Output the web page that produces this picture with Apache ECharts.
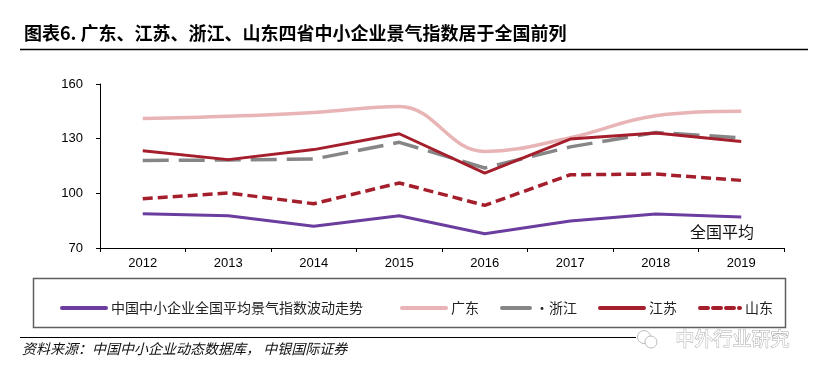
<!DOCTYPE html>
<html><head><meta charset="utf-8">
<script src="https://cdn.jsdelivr.net/npm/echarts@6/dist/echarts.min.js"></script>
<style>html,body{margin:0;padding:0;background:#fff}#c{width:821px;height:378px}</style>
</head><body><div id="c"></div>
<script>
const years = ['2012','2013','2014','2015','2016','2017','2018','2019'];
const nationalName = '中国中小企业全国平均景气指数波动走势';
const national  = [88.8, 87.7, 81.9, 87.7, 77.8, 84.8, 88.6, 87.0];
const guangdong = [141.0, 142.3, 144.4, 147.7, 123.0, 130.5, 142.6, 145.0];
const zhejiang  = [118.0, 118.3, 118.8, 128.0, 113.9, 125.5, 133.4, 130.5];
const jiangsu   = [123.4, 118.5, 124.0, 132.7, 111.1, 129.8, 133.1, 128.5];
const shandong  = [97.0, 100.2, 94.3, 105.7, 93.4, 110.2, 110.6, 107.1];
const yMin = 70, yMax = 160, yStep = 30;

const CJK = '"Noto Sans CJK SC", sans-serif';
const PURPLE = '#6A3D9F', PINK = '#E8B4B5', GRAY = '#868686', RED = '#A51E2C';

const chart = echarts.init(document.getElementById('c'), null, {renderer: 'canvas'});

function lg(name, left, w, dash) {
  const ls = {width: 4, cap: 'round'};
  if (dash) ls.type = dash;
  return {
    data: [name], left: left, top: 296, itemWidth: w, itemHeight: 14,
    itemStyle: {opacity: 0, borderWidth: 0},
    lineStyle: ls,
    textStyle: {fontFamily: CJK, fontSize: 14, color: '#222'},
    selectedMode: false
  };
}

chart.setOption({
  animation: false,
  grid: {left: 100, right: 37, top: 84, bottom: 130, containLabel: false},
  xAxis: {
    type: 'category', data: years, boundaryGap: true,
    axisLine: {lineStyle: {color: '#000', width: 1}},
    axisTick: {show: true, length: 4, lineStyle: {color: '#000'}},
    axisLabel: {color: '#000', fontSize: 13, fontFamily: '"Liberation Sans", Arial, sans-serif', margin: 9}
  },
  yAxis: {
    type: 'value', min: yMin, max: yMax, interval: yStep,
    splitLine: {show: false},
    axisLine: {show: true, lineStyle: {color: '#000', width: 1}},
    axisTick: {show: true, length: 4, lineStyle: {color: '#000'}},
    axisLabel: {color: '#000', fontSize: 13, fontFamily: '"Liberation Sans", Arial, sans-serif', margin: 17}
  },
  legend: [
    lg(nationalName, 55, 44),
    lg('广东', 395, 44),
    lg('·浙江', 495, 28, 'solid'),
    lg('江苏', 593, 44),
    lg('山东', 693, 40, [8, 5])
  ],
  series: [
    {name: nationalName, type: 'line', data: national, symbol: 'none',
     lineStyle: {color: PURPLE, width: 3}, itemStyle: {color: PURPLE}},
    {name: '广东', type: 'line', data: guangdong, symbol: 'none', smooth: 0.4,
     lineStyle: {color: PINK, width: 3.5}, itemStyle: {color: PINK}},
    {name: '·浙江', type: 'line', data: zhejiang, symbol: 'none',
     lineStyle: {color: GRAY, width: 3.5, type: [26, 10]}, itemStyle: {color: GRAY}},
    {name: '江苏', type: 'line', data: jiangsu, symbol: 'none',
     lineStyle: {color: RED, width: 3}, itemStyle: {color: RED}},
    {name: '山东', type: 'line', data: shandong, symbol: 'none',
     lineStyle: {color: RED, width: 3.5, type: [10, 5]}, itemStyle: {color: RED}}
  ],
  graphic: [
    {type: 'text', left: 24, top: 24,
     style: {text: '图表6. 广东、江苏、浙江、山东四省中小企业景气指数居于全国前列', fontFamily: CJK, fontWeight: 'bold', fontSize: 18, fill: '#000'}},
    {type: 'line', shape: {x1: 20, y1: 49.5, x2: 808, y2: 49.5}, style: {stroke: '#000', lineWidth: 1.5}},
    {type: 'rect', shape: {x: 33.5, y: 278.5, width: 752, height: 49}, style: {fill: 'none', stroke: '#5f5f5f', lineWidth: 1.5}, z: -1},
    {type: 'line', shape: {x1: 20, y1: 337.5, x2: 636, y2: 337.5}, style: {stroke: '#000', lineWidth: 1}},
    {type: 'text', left: 22, top: 342,
     style: {text: '资料来源：中国中小企业动态数据库， 中银国际证券', fontFamily: CJK, fontStyle: 'italic', fontSize: 14, fill: '#111'}},
    {type: 'text', left: 690, top: 224,
     style: {text: '全国平均', fontFamily: CJK, fontSize: 16, fill: '#111'}},
    {type: 'circle', shape: {cx: 644, cy: 337, r: 6.5}, style: {fill: '#fff', stroke: '#bbb', lineWidth: 1}},
    {type: 'circle', shape: {cx: 651, cy: 342, r: 6}, style: {fill: '#fff', stroke: '#bbb', lineWidth: 1}},
    {type: 'text', left: 675, top: 329,
     style: {text: '中外行业研究', fontFamily: CJK, fontSize: 19, fill: '#fff', stroke: '#aaa', lineWidth: 1}}
  ]
});
</script></body></html>
